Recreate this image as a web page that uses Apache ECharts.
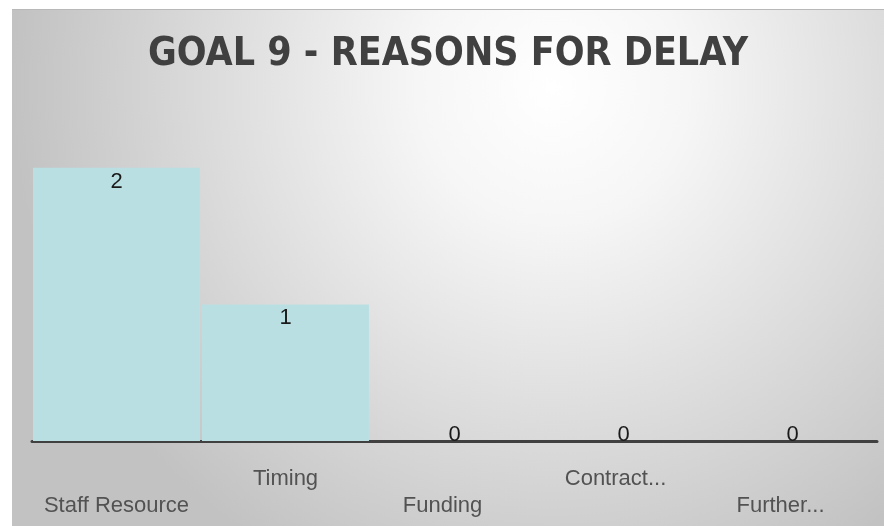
<!DOCTYPE html>
<html>
<head>
<meta charset="utf-8">
<script src="https://cdn.jsdelivr.net/npm/echarts@6/dist/echarts.min.js"></script>
<style>
  html, body { margin: 0; padding: 0; background: #ffffff; }
  #chart {
    position: absolute; left: 12px; top: 9px;
    width: 872px; height: 517px;
    border-top: 1px solid #b8b8b8;
    box-sizing: border-box;
  }
</style>
</head>
<body>
<div id="chart"></div>
<script>
// Reasons for delay under goal 9
const categories = ['Staff Resource', 'Timing', 'Funding', 'Contract...', 'Further...'];
const delayCounts = [2, 1, 0, 0, 0];

const chart = echarts.init(document.getElementById('chart'));

// Zero-height bars show their label just above the axis instead of inside
const barData = delayCounts.map(v => v > 0
  ? { value: v }
  : { value: v, label: { position: 'top', distance: -5 } });

// Category labels alternate between two rows; a few sit slightly left of centre
const labelFont = { fontFamily: 'Liberation Sans', fontSize: 22, color: '#525252' };
const labelRich = {
  hi0: Object.assign({ padding: [0, 0, 0, 0] }, labelFont),
  hi1: Object.assign({ padding: [0, 16, 0, 0] }, labelFont),
  lo0: Object.assign({ padding: [27, 0, 0, 0] }, labelFont),
  lo1: Object.assign({ padding: [27, 24, 0, 0] }, labelFont)
};
const labelStyleKeys = ['lo0', 'hi0', 'lo1', 'hi1', 'lo1'];

chart.setOption({
  backgroundColor: {
    type: 'radial', x: 0.62, y: 0.15, r: 1.05,
    colorStops: [
      { offset: 0, color: '#ffffff' },
      { offset: 0.25, color: '#f6f6f6' },
      { offset: 1, color: '#c2c2c2' }
    ]
  },
  title: {
    text: 'GOAL 9 - REASONS FOR DELAY',
    left: 'center',
    top: 20,
    textStyle: {
      fontFamily: 'DejaVu Sans Condensed',
      fontWeight: 'bold',
      fontSize: 39,
      color: '#404040'
    }
  },
  grid: { left: 20, right: 7, top: 89.5, bottom: 85 },
  xAxis: {
    type: 'category',
    data: categories,
    axisLine: { lineStyle: { color: '#404040', width: 3 } },
    axisTick: { show: false },
    axisLabel: {
      interval: 0,
      margin: 27,
      color: '#525252',
      fontFamily: 'Liberation Sans',
      fontSize: 22,
      formatter: (v, i) => '{' + labelStyleKeys[i] + '|' + v + '}',
      rich: labelRich
    }
  },
  yAxis: {
    type: 'value',
    min: 0,
    max: 2.5,
    show: false,
    splitLine: { show: false }
  },
  series: [{
    type: 'bar',
    data: barData,
    barCategoryGap: '1.2%',
    itemStyle: { color: '#badfe3' },
    label: {
      show: true,
      position: 'insideTop',
      distance: 3,
      color: '#1a1a1a',
      fontFamily: 'Liberation Sans',
      fontSize: 22
    }
  }]
});
</script>
</body>
</html>
